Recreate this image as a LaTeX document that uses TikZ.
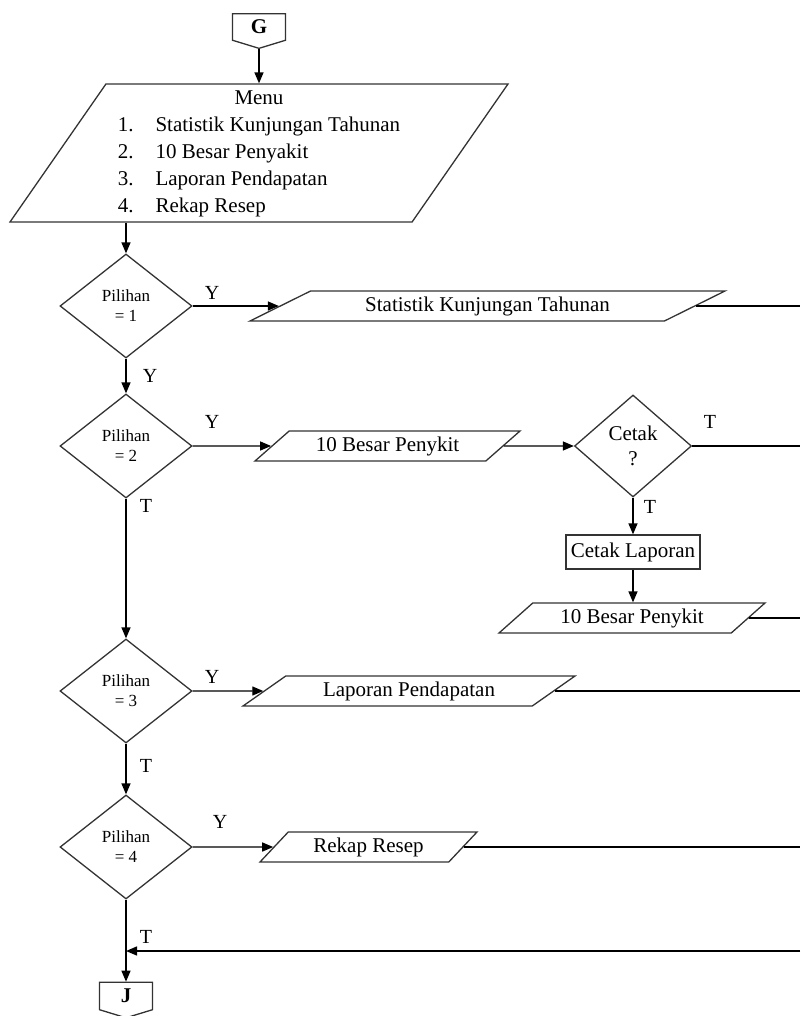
\documentclass[tikz,border=0pt]{standalone}
\usepackage{fontspec}
\setmainfont{Liberation Serif}
\usetikzlibrary{shapes.geometric,shapes.symbols,arrows.meta}

\tikzset{
	flow/.style={draw=black!80,line width=1.3pt},
	arr/.style={draw=black,line width=1.4pt,-{Triangle[length=11pt,width=9pt]}},
	line/.style={draw=black,line width=1.4pt},
	decision/.style={flow,diamond,inner sep=0pt,minimum width=132pt,minimum height=104pt,align=center,font=\fontsize{17}{20}\selectfont},
	io/.style={flow,trapezium,trapezium stretches body,inner sep=0pt,minimum height=30pt,font=\fontsize{21}{25}\selectfont},
	proc/.style={flow,rectangle,inner sep=2pt,minimum width=134pt,minimum height=34pt,font=\fontsize{21}{25}\selectfont},
	pagelink/.style={flow,signal,signal to=south,signal pointer angle=146,inner sep=0pt,minimum width=53pt,minimum height=29pt,font=\fontsize{21}{25}\selectfont\bfseries},
	lbl/.style={font=\fontsize{20}{24}\selectfont}
}

\begin{document}
\begin{tikzpicture}[x=1pt,y=-1pt]
	\useasboundingbox (0,0) rectangle (800,1016);
	\coordinate (edge) at (800,0);

	% start and menu
	\node[pagelink] (G) at (259,27) {G};
	\node[io,trapezium left angle=54.6,trapezium right angle=125.4,minimum width=498pt,minimum height=138pt,font=\fontsize{21}{27}\selectfont] (menu) at (259,153) {
		\begin{tabular}{@{}l@{\hspace{22pt}}l@{}}
			\multicolumn{2}{c}{Menu}\\
			1. & Statistik Kunjungan Tahunan\\
			2. & 10 Besar Penyakit\\
			3. & Laporan Pendapatan\\
			4. & Rekap Resep
		\end{tabular}
	};

	% choices
	\node[decision] (d1) at (126,306) {Pilihan\\= 1};
	\node[decision] (d2) at (126,446) {Pilihan\\= 2};
	\node[decision] (d3) at (126,691) {Pilihan\\= 3};
	\node[decision] (d4) at (126,847) {Pilihan\\= 4};

	% outputs
	\node[io,trapezium left angle=17.5,trapezium right angle=162.5,minimum width=475pt] (stat) at (487.5,306) {Statistik Kunjungan Tahunan};
	\node[io,trapezium left angle=29.2,trapezium right angle=150.8,minimum width=265pt] (besar) at (387.5,446) {10 Besar Penykit};
	\node[decision,minimum width=117pt,minimum height=102pt,font=\fontsize{21}{25}\selectfont] (cetak) at (633,446) {Cetak\\?};
	\node[proc] (cetaklap) at (633,552) {Cetak Laporan};
	\node[io,trapezium left angle=29.5,trapezium right angle=150.5,minimum width=266pt] (besarout) at (632,618) {10 Besar Penykit};
	\node[io,trapezium left angle=24,trapezium right angle=156,minimum width=332pt] (lapor) at (409,691) {Laporan Pendapatan};
	\node[io,trapezium left angle=34,trapezium right angle=146,minimum width=217pt] (rekap) at (368.5,847) {Rekap Resep};

	% end
	\node[pagelink] (J) at (126,996) {J};
	\coordinate (back) at (800,951);

	% labels
	\node[lbl] (y1) at (212,293) {Y};
	\node[lbl] (y1b) at (150,376) {Y};
	\node[lbl] (y2) at (212,422) {Y};
	\node[lbl] (t2) at (146,506) {T};
	\node[lbl] (y3) at (212,677) {Y};
	\node[lbl] (t3) at (146,766) {T};
	\node[lbl] (y4) at (220,822) {Y};
	\node[lbl] (t4) at (146,937) {T};
	\node[lbl] (tc1) at (710,422) {T};
	\node[lbl] (tc2) at (650,507) {T};

	% connectors
	\draw[arr] (G.south) -- (G.south |- menu.north);
	\draw[arr] (d1.north |- menu.south) -- (d1.north);
	\draw[arr] (d1.east) -- (stat.west);
	\draw[line] (stat.east) -- (stat.east -| edge);
	\draw[arr] (d1.south) -- (d2.north);
	\draw[arr] (d2.east) -- (besar.west);
	\draw[arr] (besar.east) -- (cetak.west);
	\draw[line] (cetak.east) -- (cetak.east -| edge);
	\draw[arr] (cetak.south) -- (cetaklap.north);
	\draw[arr] (cetaklap.south) -- (cetaklap.south |- besarout.north);
	\draw[line] (besarout.east) -- (besarout.east -| edge);
	\draw[arr] (d2.south) -- (d3.north);
	\draw[arr] (d3.east) -- (lapor.west);
	\draw[line] (lapor.east) -- (lapor.east -| edge);
	\draw[arr] (d3.south) -- (d4.north);
	\draw[arr] (d4.east) -- (rekap.west);
	\draw[line] (rekap.east) -- (rekap.east -| edge);
	\draw[arr] (d4.south) -- (J.north);
	\draw[arr] (back) -- (back -| d4.south);
\end{tikzpicture}
\end{document}
